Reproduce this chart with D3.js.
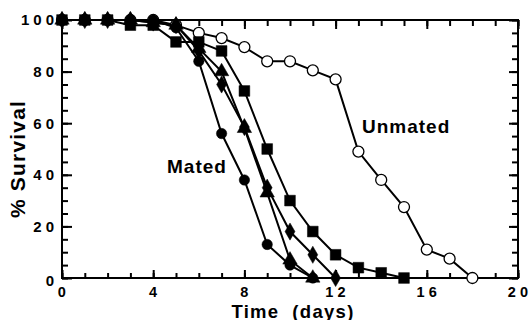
<!DOCTYPE html>
<html><head><meta charset="utf-8">
<script src="https://cdn.jsdelivr.net/npm/d3@7"></script>
<style>
body{margin:0;background:#fff;}
svg{display:block;font-family:"Liberation Sans",Arial,Helvetica,sans-serif;font-weight:bold;}
</style></head>
<body>
<svg id="chart" width="532" height="320"></svg>
<script>
// ---- data ----
const matedCircle   = [100,100,100,100,100,97,84,56,38,13,5,0];
const matedTriangle = [100,100,100,100,99,98,89,80,58,33,7,0];
const matedDiamond  = [100,100,100,100,99,98,88,75,58.5,35,18,9,0];
const matedSquare   = [100,100,100,98,98,91.5,91.5,88,72.5,50,30,18,9,4,2,0];
const unmated       = [100,100,100,100,100,98,95,93,89.5,84,84,80.5,77,49,38,27.5,11,7.5,0];
const xTickLabels = [0,4,8,12,16,20];
const yTickLabels = [0,20,40,60,80,100];
const xTitle = "Time  (days)";
const yTitle = "% Survival";

const svg = d3.select("#chart");
const x = d3.scaleLinear().domain([0,20]).range([62,518]);
const y = d3.scaleLinear().domain([0,100]).range([278,20]);

// drawing order: unmated first, squares last
const series = [
  {vals: unmated, shape: "open"},
  {vals: matedCircle, shape: "circle"},
  {vals: matedTriangle, shape: "triangle"},
  {vals: matedDiamond, shape: "diamond"},
  {vals: matedSquare, shape: "square"}
];

// frame
svg.append("rect").attr("x",x(0)).attr("y",y(100)).attr("width",x(20)-x(0)).attr("height",y(0)-y(100))
  .attr("fill","none").attr("stroke","#000").attr("stroke-width",2);

const minorX = d3.range(0,21,1), minorY = d3.range(0,101,5);
function ticks(axisFn, scale, vals, size, tr){
  const g = svg.append("g").attr("transform",tr)
    .call(axisFn(scale).tickValues(vals).tickSize(size).tickFormat(""));
  g.select(".domain").remove();
  g.selectAll(".tick line").attr("stroke","#000").attr("stroke-width",2);
}
ticks(d3.axisBottom, x, minorX, -5, `translate(0,${y(0)})`);
ticks(d3.axisBottom, x, xTickLabels, -8, `translate(0,${y(0)})`);
ticks(d3.axisTop, x, minorX, -6, `translate(0,${y(100)})`);
ticks(d3.axisTop, x, xTickLabels, -9, `translate(0,${y(100)})`);
ticks(d3.axisLeft, y, minorY, -6, `translate(${x(0)},0)`);
ticks(d3.axisLeft, y, yTickLabels, -10, `translate(${x(0)},0)`);
ticks(d3.axisRight, y, minorY, -6, `translate(${x(20)},0)`);
ticks(d3.axisRight, y, yTickLabels, -9, `translate(${x(20)},0)`);

// tick labels
svg.append("g").selectAll("text").data(yTickLabels).join("text")
  .attr("x", x(0)-4).attr("y", d=>y(d)).attr("dy", d=> d===0 ? "0.55em" : "0.36em")
  .attr("text-anchor","end").attr("font-size",15).attr("letter-spacing",4)
  .text(d=>d);
svg.append("g").selectAll("text").data(xTickLabels).join("text")
  .attr("x", d=>x(d)+2).attr("y", y(0)+18.5)
  .attr("text-anchor","middle").attr("font-size",14.5).attr("letter-spacing",4.2)
  .text(d=>d);

// titles
svg.append("text").attr("x",293).attr("y",318).attr("text-anchor","middle")
  .attr("font-size",18.5).attr("letter-spacing",1.3).style("white-space","pre").text(xTitle);
svg.append("text").attr("transform","translate(25,159) rotate(-90)").attr("text-anchor","middle")
  .attr("font-size",21).attr("letter-spacing",1.2).text(yTitle);

// lines
const line = d3.line().x((d,i)=>x(i)).y(d=>y(d));
series.forEach(s=>{
  svg.append("path").datum(s.vals).attr("d",line).attr("fill","none")
    .attr("stroke","#000").attr("stroke-width",2);
});

// markers
const sym = {
  square: d3.symbol().type(d3.symbolSquare).size(115),
  diamond: d3.symbol().type(d3.symbolDiamond).size(85),
  triangle: d3.symbol().type(d3.symbolTriangle).size(90),
  circle: d3.symbol().type(d3.symbolCircle).size(85),
  open: d3.symbol().type(d3.symbolCircle).size(95)
};
series.forEach(s=>{
  svg.append("g").selectAll("path").data(s.vals).join("path")
    .attr("transform",(d,i)=>`translate(${x(i)},${y(d)})`)
    .attr("d", sym[s.shape]())
    .attr("fill", s.shape==="open" ? "#fff" : "#000")
    .attr("stroke","#000").attr("stroke-width", s.shape==="open" ? 1.3 : 0.5);
});

// annotations
svg.append("text").attr("x",362).attr("y",133).attr("font-size",19).attr("letter-spacing",1).text("Unmated");
svg.append("text").attr("x",167).attr("y",173).attr("font-size",19).attr("letter-spacing",1).text("Mated");
</script>
</body></html>
